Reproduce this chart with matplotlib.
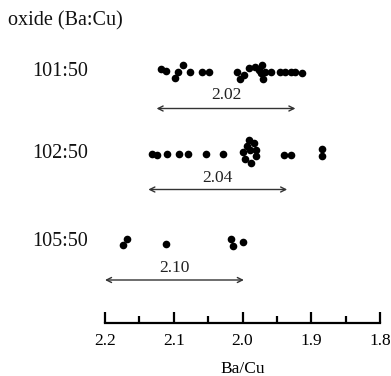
import matplotlib
matplotlib.use('Agg')
import matplotlib.pyplot as plt

### Data

oxides = ['101:50', '102:50', '105:50']

ba_cu_101 = [2.119, 2.112, 2.098, 2.094, 2.086, 2.077, 2.059, 2.049,
             2.008, 2.004, 1.998, 1.991, 1.982, 1.976, 1.971, 1.973,
             1.967, 1.970, 1.959, 1.946, 1.938, 1.930, 1.923, 1.914]
ba_cu_102 = [2.132, 2.125, 2.110, 2.092, 2.079, 2.053, 2.028,
             1.991, 1.983, 1.993, 1.980, 1.989, 1.999, 1.981, 1.996, 1.988,
             1.939, 1.929, 1.884, 1.884]
ba_cu_105 = [2.168, 2.174, 2.112, 2.017, 2.014, 1.999]

# vertical stacking of overlapping points (pixels from row centre)
stack_101 = [-3, -1, 6, 0, -7, 0, 0, 0, 0, 7, 3, -4, -5, -2, -7, 1, 0, 7, 0, 0, 0, 0, 0, 1]
stack_102 = [0, 1, 0, 0, 0, 0, 0, -14, -11, -8, -4, -4, -2, 2, 5, 9, 1, 1, -5, 2]
stack_105 = [-3, 3, 2, -3, 4, 0]

means = ['2.02', '2.04', '2.10']
arrow_left = [2.125, 2.137, 2.200]
arrow_right = [1.923, 1.935, 1.998]

ticks = [2.2, 2.1, 2.0, 1.9, 1.8]
minor_ticks = [2.15, 2.05, 1.95, 1.85]

### Plot

plt.rcParams['font.family'] = ['Liberation Serif', 'DejaVu Serif']

fig = plt.figure(figsize=(3.91, 3.76), dpi=100)
W, H = 391.0, 376.0
ax = fig.add_axes([105 / W, (H - 323) / H, 275 / W, 323 / H])
ax.set_xlim(2.2, 1.8)
ax.set_ylim(323, 0)   # y in pixels from the top

row_y = [72, 153.5, 242]
arrow_y = [108.5, 189.5, 280]
label_y = [95, 178, 268]

all_vals = [ba_cu_101, ba_cu_102, ba_cu_105]
all_stack = [stack_101, stack_102, stack_105]

for i in range(3):
    ys = [row_y[i] + s for s in all_stack[i]]
    ax.plot(all_vals[i], ys, 'o', color='black', markersize=5.5, markeredgewidth=0)
    ax.annotate('', xy=(arrow_right[i], arrow_y[i]), xytext=(arrow_left[i], arrow_y[i]),
                arrowprops=dict(arrowstyle='<->', lw=1.0, color='#333333',
                                shrinkA=0, shrinkB=0, mutation_scale=9))
    mid = (arrow_left[i] + arrow_right[i]) / 2
    ax.text(mid, label_y[i], means[i], ha='center', va='center', fontsize=12.5, color='#222222')
    ax.text(32 / W, 1 - row_y[i] / H, oxides[i], transform=fig.transFigure,
            ha='left', va='center', fontsize=14.5, color='#111111')

fig.text(8 / W, 1 - 21 / H, 'oxide (Ba:Cu)', ha='left', va='center', fontsize=14.5, color='#111111')

for s in ['top', 'left', 'right']:
    ax.spines[s].set_visible(False)
ax.spines['bottom'].set_linewidth(1.6)
ax.set_yticks([])
ax.set_xticks(ticks)
ax.set_xticklabels([str(t) for t in ticks])
ax.set_xticks(minor_ticks, minor=True)
ax.tick_params(axis='x', which='major', direction='in', length=8, width=1.6, pad=7, labelsize=12.5)
ax.tick_params(axis='x', which='minor', direction='in', length=5, width=1.6)
ax.set_xlabel('Ba/Cu', fontsize=12.5, labelpad=9)
ax.patch.set_visible(False)

fig.savefig('out.png', dpi=100)
